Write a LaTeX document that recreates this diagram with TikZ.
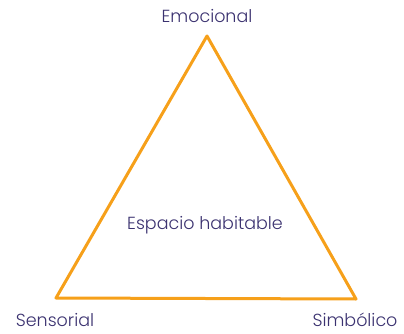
\documentclass[tikz,border=0pt]{standalone}
\usepackage{fontspec}
\setmainfont{Poppins}[UprightFont=* Light]
\usetikzlibrary{positioning}
\definecolor{trianglecolor}{HTML}{F6A01A}
\definecolor{labelcolor}{HTML}{3B3270}
\tikzset{
x=1pt, y=-1pt, % work in pixel-like units, y pointing down
side/.style={draw=trianglecolor, line width=3pt, line join=round, line cap=round}, % the sides of the triangle
label text/.style={text=labelcolor, font=\fontsize{17.5}{20}\selectfont, inner sep=0pt}, % the texts
}
\begin{document}
\begin{tikzpicture}
            \useasboundingbox (0,0) rectangle (404,334);
            \coordinate (top) at (207,36);
            \coordinate (left) at (56,298);
            \coordinate (right) at (356,299);
            \node[label text] (emocional) at (207,16) {Emocional};
            \node[label text] (sensorial) at (55,320) {Sensorial};
            \node[label text] (simbolico) at (355,320) {Simbólico};
            \node[label text] (espacio) at (205,225) {Espacio habitable};
            \draw[side] (top) -- (right) -- (left) -- cycle;
\end{tikzpicture}
\end{document}
